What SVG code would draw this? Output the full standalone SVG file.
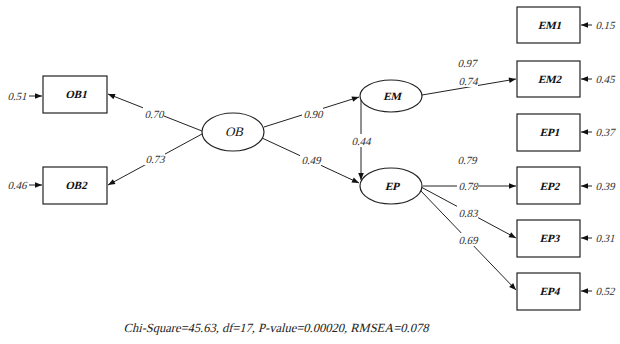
<svg xmlns="http://www.w3.org/2000/svg" width="620" height="344" viewBox="0 0 620 344">
<style>
.box{fill:#fff;stroke:#222;stroke-width:1.2}
.ell{fill:#fff;stroke:#222;stroke-width:1.2}
text{font-family:'Liberation Serif','DejaVu Serif',serif;text-anchor:middle}
.nl{font-weight:bold;font-size:11px;fill:#111}
.nlo{font-size:13px;fill:#111}
.el{font-size:11px;fill:#333}
.ft{font-size:12.5px;fill:#222}
.ln{stroke:#222;stroke-width:1;fill:none;marker-end:url(#ah)}
.lb{fill:#fff}
</style>
<defs>
<marker id="ah" viewBox="0 0 10 10" refX="10" refY="5" markerWidth="9" markerHeight="7" markerUnits="userSpaceOnUse" orient="auto">
<path d="M0,1 L10,5 L0,9 Z" fill="#111"/>
</marker>
</defs>
<g id="connectors">
<line class="ln" x1="202" y1="131" x2="108" y2="94"/>
<line class="ln" x1="202" y1="134" x2="108" y2="185"/>
<line class="ln" x1="264" y1="127" x2="359" y2="97"/>
<line class="ln" x1="262" y1="138" x2="359" y2="183"/>
<line class="ln" x1="361" y1="100" x2="361" y2="180"/>
<line class="ln" x1="422" y1="95" x2="516" y2="79"/>
<line class="ln" x1="423" y1="186" x2="516" y2="186"/>
<line class="ln" x1="421" y1="187" x2="516" y2="238"/>
<line class="ln" x1="420" y1="190" x2="516" y2="290"/>
<line class="ln" x1="29" y1="96" x2="42" y2="96"/>
<line class="ln" x1="29" y1="185" x2="42" y2="185"/>
<line class="ln" x1="592" y1="25" x2="581" y2="25"/>
<line class="ln" x1="592" y1="79" x2="581" y2="79"/>
<line class="ln" x1="592" y1="132" x2="581" y2="132"/>
<line class="ln" x1="592" y1="186" x2="581" y2="186"/>
<line class="ln" x1="592" y1="238" x2="581" y2="238"/>
<line class="ln" x1="592" y1="291" x2="581" y2="291"/>
<rect class="lb" x="143" y="107" width="21" height="13"/>
<text class="el" transform="translate(154,118) skewX(-14)">0.70</text>
<rect class="lb" x="144" y="152" width="21" height="13"/>
<text class="el" transform="translate(155,163) skewX(-14)">0.73</text>
<rect class="lb" x="302" y="107" width="21" height="13"/>
<text class="el" transform="translate(313,118) skewX(-14)">0.90</text>
<rect class="lb" x="300" y="153" width="21" height="13"/>
<text class="el" transform="translate(311,164) skewX(-14)">0.49</text>
<rect class="lb" x="350" y="134" width="21" height="13"/>
<text class="el" transform="translate(361,145) skewX(-14)">0.44</text>
<text class="el" transform="translate(467,67) skewX(-14)">0.97</text>
<rect class="lb" x="457" y="75" width="21" height="12"/>
<text class="el" transform="translate(468,85) skewX(-14)">0.74</text>
<text class="el" transform="translate(467,164) skewX(-14)">0.79</text>
<rect class="lb" x="457" y="180" width="21" height="12"/>
<text class="el" transform="translate(468,190) skewX(-14)">0.78</text>
<rect class="lb" x="457" y="206" width="21" height="13"/>
<text class="el" transform="translate(468,217) skewX(-14)">0.83</text>
<rect class="lb" x="457" y="233" width="21" height="13"/>
<text class="el" transform="translate(468,244) skewX(-14)">0.69</text>
<text class="el" transform="translate(17,100) skewX(-14)">0.51</text>
<text class="el" transform="translate(17,189) skewX(-14)">0.46</text>
<text class="el" transform="translate(605,29) skewX(-14)">0.15</text>
<text class="el" transform="translate(605,83) skewX(-14)">0.45</text>
<text class="el" transform="translate(605,136) skewX(-14)">0.37</text>
<text class="el" transform="translate(605,190) skewX(-14)">0.39</text>
<text class="el" transform="translate(605,242) skewX(-14)">0.31</text>
<text class="el" transform="translate(605,295) skewX(-14)">0.52</text>
</g>
<g id="OB1"><rect class="box" x="43" y="76" width="64" height="37"/><text class="nl" transform="translate(76,98) skewX(-14)">OB1</text></g>
<g id="OB2"><rect class="box" x="43" y="167" width="64" height="37"/><text class="nl" transform="translate(76,189) skewX(-14)">OB2</text></g>
<g id="OB"><ellipse class="ell" cx="233" cy="132" rx="31" ry="19"/><text class="nlo" transform="translate(234,136) skewX(-14)">OB</text></g>
<g id="EM"><ellipse class="ell" cx="391" cy="96" rx="31" ry="16"/><text class="nl" transform="translate(392,100) skewX(-14)">EM</text></g>
<g id="EP"><ellipse class="ell" cx="391" cy="186" rx="31" ry="18"/><text class="nl" transform="translate(392,190) skewX(-14)">EP</text></g>
<g id="EM1"><rect class="box" x="517" y="7" width="63" height="36"/><text class="nl" transform="translate(549.5,29) skewX(-14)">EM1</text></g>
<g id="EM2"><rect class="box" x="517" y="61" width="63" height="36"/><text class="nl" transform="translate(549.5,83) skewX(-14)">EM2</text></g>
<g id="EP1"><rect class="box" x="517" y="114" width="63" height="37"/><text class="nl" transform="translate(549.5,136) skewX(-14)">EP1</text></g>
<g id="EP2"><rect class="box" x="517" y="167" width="63" height="37"/><text class="nl" transform="translate(549.5,190) skewX(-14)">EP2</text></g>
<g id="EP3"><rect class="box" x="517" y="220" width="63" height="37"/><text class="nl" transform="translate(549.5,242) skewX(-14)">EP3</text></g>
<g id="EP4"><rect class="box" x="517" y="273" width="63" height="37"/><text class="nl" transform="translate(549.5,295) skewX(-14)">EP4</text></g>
<text class="ft" transform="translate(276,332) skewX(-14)">Chi-Square=45.63, df=17, P-value=0.00020, RMSEA=0.078</text>
</svg>
